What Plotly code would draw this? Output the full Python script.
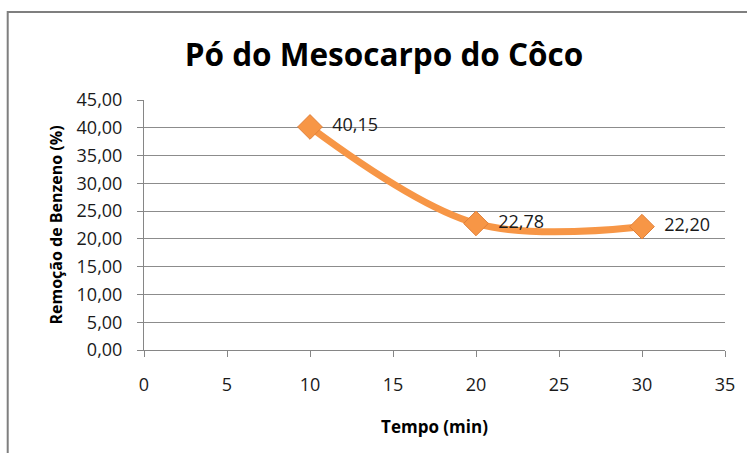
import plotly.graph_objects as go

tempo = [10, 20, 30]
remocao = [40.15, 22.78, 22.20]
x_ticks = [0, 5, 10, 15, 20, 25, 30, 35]
y_ticks = [0, 5, 10, 15, 20, 25, 30, 35, 40, 45]

title = "Pó do Mesocarpo do Côco"
x_title = "Tempo (min)"
y_title = "Remoção de Benzeno (%)"

orange = "#F79646"
font = "Open Sans"

W, H = 747, 453
L, R = 144, W - 728
T, B = 100, H - 350
PW = W - L - R
PH = H - T - B

fig = go.Figure()
fig.add_trace(go.Scatter(
    x=tempo, y=remocao,
    mode="lines+markers+text",
    line=dict(color=orange, width=7, shape="spline", smoothing=1.0),
    marker=dict(symbol="diamond", size=19, color=orange,
                line=dict(color="#E0803A", width=1)),
    texttemplate="  %{y:.2f}",
    textposition="middle right",
    textfont=dict(family=font, size=18, color="#1a1a1a"),
    cliponaxis=False,
    showlegend=False,
))

fig.update_layout(
    width=W, height=H,
    margin=dict(l=L, r=R, t=T, b=B),
    paper_bgcolor="white", plot_bgcolor="white",
    separators=",.",
    title=dict(text="<b>" + title + "</b>", x=384/W, xref="container", xanchor="center",
               y=1-55/H, yref="container", yanchor="middle",
               font=dict(family=font, size=31.5, color="#000000")),
    xaxis=dict(range=[0, 35], tickvals=x_ticks, showgrid=False,
               showline=True, linecolor="#868686", linewidth=1,
               ticks="outside", ticklen=6, tickcolor="#868686",
               ticklabelstandoff=12,
               tickfont=dict(family=font, size=18, color="#1a1a1a"),
               title=dict(text="<b>" + x_title + "</b>", standoff=26,
                          font=dict(family=font, size=17, color="#000000")),
               zeroline=False, fixedrange=True),
    yaxis=dict(range=[0, 45], tickvals=y_ticks, tickformat=".2f",
               showgrid=True, gridcolor="#8C8C8C", gridwidth=1,
               showline=True, linecolor="#868686", linewidth=1,
               ticks="outside", ticklen=6, tickcolor="#868686",
               ticklabelstandoff=11,
               tickfont=dict(family=font, size=18, color="#1a1a1a"),
               title=dict(text="<b>" + y_title + "</b>", standoff=9,
                          font=dict(family=font, size=16, color="#000000")),
               zeroline=False, fixedrange=True),
    shapes=[dict(type="rect", xref="paper", yref="paper",
                 x0=(7-L)/PW, x1=1.3, y0=-0.8, y1=1+(T-12)/PH,
                 line=dict(color="#7F7F7F", width=2), fillcolor="rgba(0,0,0,0)",
                 layer="below")],
)

fig.write_html("out.html", post_script="document.body.style.margin='0';",
               config={"displayModeBar": False})
